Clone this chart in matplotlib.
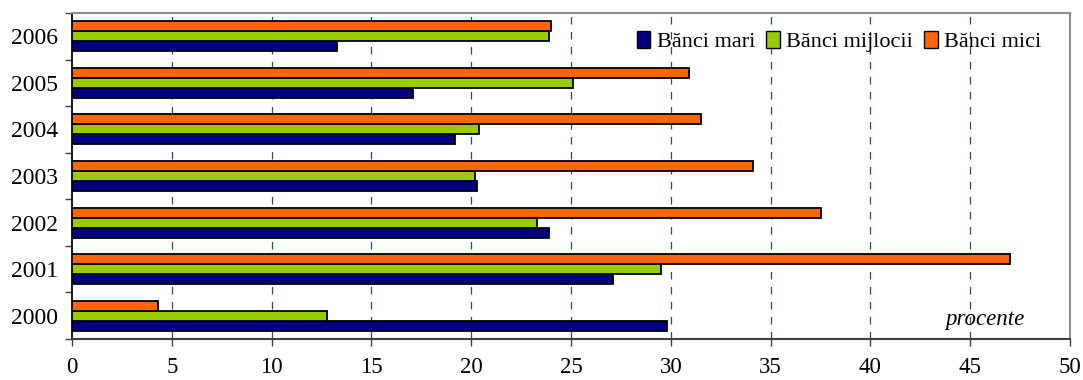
import numpy as np
import matplotlib
matplotlib.use("Agg")
import matplotlib.pyplot as plt
from matplotlib.patches import Patch

plt.rcParams['font.family'] = ['Liberation Serif', 'DejaVu Serif']

years = ["2000", "2001", "2002", "2003", "2004", "2005", "2006"]
banci_mari = [29.8, 27.1, 23.9, 20.3, 19.2, 17.1, 13.3]
banci_mijlocii = [12.8, 29.5, 23.3, 20.2, 20.4, 25.1, 23.9]
banci_mici = [4.3, 47.0, 37.5, 34.1, 31.5, 30.9, 24.0]

series = [("Bănci mari", banci_mari, "#000080"),
          ("Bănci mijlocii", banci_mijlocii, "#99CC00"),
          ("Bănci mici", banci_mici, "#FF6600")]

fig = plt.figure(figsize=(10.83, 3.8), dpi=100)
ax = fig.add_axes([72/1083, 1 - 339/380, 998/1083, 326/380])

y = np.arange(len(years))
h = 0.215
for i, (name, vals, col) in enumerate(series):
    ax.barh(y + (i - 1) * h, vals, height=h, color=col, edgecolor="black",
            linewidth=1.3, zorder=3, label=name)

ax.set_xlim(0, 50)
ax.set_ylim(-0.5, len(years) - 0.5)
ax.set_xticks(np.arange(0, 51, 5))
ax.set_yticks(y)
ax.set_yticklabels(years)
ax.set_yticks(np.arange(-0.5, len(years), 1), minor=True)
ax.tick_params(axis="y", which="major", length=0, labelsize=17, pad=10)
ax.tick_params(axis="y", which="minor", length=5, width=1, color="#404040", direction="out")
ax.tick_params(axis="x", length=5, width=1, color="#404040", labelsize=16.5, pad=8)

# dashed vertical grid behind the bars
for xv in range(5, 50, 5):
    ax.axvline(xv, color="#1F4E79", linewidth=0.9, linestyle=(0, (6, 6)), zorder=1)

ax.spines["left"].set_color("#202020")
ax.spines["left"].set_linewidth(1.5)
ax.spines["bottom"].set_color("#404040")
ax.spines["bottom"].set_linewidth(1.5)
for s in ("top", "right"):
    ax.spines[s].set_color("#909090")
    ax.spines[s].set_linewidth(1.5)

handles = [Patch(facecolor=c, edgecolor="black", linewidth=1.0, label=n) for n, _, c in series]
ax.legend(handles=handles, ncol=3, loc="upper right", bbox_to_anchor=(0.985, 0.985),
          frameon=False, fontsize=16, handlelength=0.6, handleheight=0.75,
          handletextpad=0.3, columnspacing=0.5, borderaxespad=0.2)

ax.text(0.955, 0.06, "procente", transform=ax.transAxes, ha="right", va="center",
        fontsize=16.5, fontstyle="italic")

fig.savefig("out.png", dpi=100)
